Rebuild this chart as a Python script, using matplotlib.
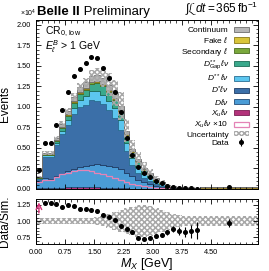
import numpy as np
import matplotlib
matplotlib.use("Agg")
import matplotlib.pyplot as plt
from matplotlib.patches import Patch
from matplotlib.ticker import AutoMinorLocator, FormatStrFormatter, FixedLocator

plt.rcParams['font.family'] = ['Liberation Sans', 'DejaVu Sans']
plt.rcParams['mathtext.fontset'] = 'custom'
plt.rcParams['mathtext.rm'] = 'Liberation Sans'
plt.rcParams['mathtext.it'] = 'Liberation Sans:italic'
plt.rcParams['mathtext.bf'] = 'Liberation Sans:bold'
plt.rcParams['hatch.linewidth'] = 1.1

# ---- data (units of 1e4 events) ----
bin_edges = [0.0, 0.15, 0.30, 0.45, 0.60, 0.75, 0.90, 1.05, 1.20, 1.35, 1.50, 1.65, 1.80, 1.95,
             2.10, 2.25, 2.40, 2.55, 2.70, 2.85, 3.00, 3.15, 3.30, 3.45, 3.60, 3.75, 3.90, 4.05,
             4.20, 5.70]
data = [0.23, 0.56, 0.56, 0.78, 0.96, 1.18, 1.38, 1.46, 1.54, 1.61, 1.60, 1.48, 1.35, 1.18,
        0.94, 0.62, 0.41, 0.27, 0.19, 0.15, 0.10, 0.07, 0.04, 0.03, 0.015, 0.011, 0.007, 0.0048,
        0.0207]
data_err = [0.0048, 0.0075, 0.0075, 0.0088, 0.0098, 0.0109, 0.0117, 0.0121, 0.0124, 0.0127,
            0.0126, 0.0122, 0.0116, 0.0109, 0.0097, 0.0079, 0.0064, 0.0052, 0.0044, 0.0039,
            0.0032, 0.0026, 0.0020, 0.0017, 0.0012, 0.0010, 0.0008, 0.0007, 0.0014]
xu = [0.009, 0.011, 0.011, 0.015, 0.018, 0.020, 0.022, 0.023, 0.023, 0.022, 0.020, 0.018, 0.016,
      0.014, 0.011, 0.009, 0.006, 0.0045, 0.0035, 0.0025, 0.0018, 0.0012, 0.0008, 0.0006, 0.0004,
      0.0003, 0.0002, 0.0002, 0.0003]
dlnu = [0.08, 0.12, 0.11, 0.14, 0.17, 0.20, 0.22, 0.24, 0.26, 0.27, 0.28, 0.28, 0.27, 0.25, 0.23,
        0.19, 0.15, 0.11, 0.08, 0.06, 0.04, 0.025, 0.013, 0.009, 0.004, 0.003, 0.0015, 0.001, 0.001]
dstar = [0.038, 0.259, 0.269, 0.381, 0.48, 0.565, 0.67, 0.731, 0.745, 0.789, 0.776, 0.733, 0.672,
         0.60, 0.476, 0.261, 0.139, 0.084, 0.053, 0.040, 0.017, 0.012, 0.004, 0.001, 0.0005,
         0.0003, 0.0002, 0.0001, 0.002]
dss = [0.008, 0.02, 0.02, 0.03, 0.045, 0.06, 0.075, 0.09, 0.10, 0.11, 0.12, 0.12, 0.12, 0.12, 0.12,
       0.10, 0.08, 0.065, 0.05, 0.04, 0.028, 0.02, 0.011, 0.008, 0.004, 0.003, 0.0015, 0.001, 0.001]
gap = [0.005, 0.01, 0.01, 0.02, 0.03, 0.045, 0.06, 0.07, 0.08, 0.09, 0.095, 0.10, 0.10, 0.10, 0.10,
       0.09, 0.07, 0.06, 0.045, 0.035, 0.025, 0.018, 0.01, 0.008, 0.004, 0.003, 0.002, 0.001, 0.001]
secondary = [0.003, 0.006, 0.006, 0.008, 0.01, 0.012, 0.014, 0.016, 0.017, 0.018, 0.018, 0.018,
             0.017, 0.016, 0.014, 0.012, 0.009, 0.007, 0.005, 0.004, 0.003, 0.002, 0.0015, 0.001,
             0.0008, 0.0006, 0.0004, 0.0003, 0.003]
fake = [0.002, 0.004, 0.004, 0.006, 0.007, 0.008, 0.009, 0.01, 0.01, 0.011, 0.011, 0.011, 0.01,
        0.01, 0.009, 0.008, 0.006, 0.005, 0.004, 0.003, 0.003, 0.002, 0.002, 0.0015, 0.001, 0.001,
        0.001, 0.001, 0.010]
continuum = [0.005, 0.01, 0.01, 0.02, 0.03, 0.04, 0.05, 0.06, 0.065, 0.07, 0.07, 0.07, 0.065, 0.06,
             0.05, 0.04, 0.03, 0.025, 0.02, 0.016, 0.012, 0.009, 0.006, 0.005, 0.003, 0.002, 0.0015,
             0.001, 0.003]
rel_unc = [0.05, 0.045, 0.045, 0.045, 0.045, 0.045, 0.045, 0.045, 0.045, 0.05, 0.06, 0.08, 0.11,
           0.14, 0.17, 0.20, 0.22, 0.24, 0.24, 0.23, 0.20, 0.17, 0.14, 0.11, 0.09, 0.08, 0.07, 0.07,
           0.07]

components = [
    (r'$X_u\ell\nu$', xu, '#b3327a', '#7a1f52'),
    (r'$D\ell\nu$', dlnu, '#4a9cd6', '#234d78'),
    (r'$D^{*}\ell\nu$', dstar, '#3b6fa8', '#1f3d66'),
    (r'$D^{**}\ell\nu$', dss, '#5cc6ef', '#2a6f93'),
    (r'$D^{**}_{\mathrm{Gap}}\ell\nu$', gap, '#3aa98c', '#1d6b57'),
    (r'Secondary $\ell$', secondary, '#7aa83c', '#4a6b20'),
    (r'Fake $\ell$', fake, '#d9c53a', '#8a7a1a'),
    ('Continuum', continuum, '#b7b7b7', '#6e6e6e'),
]

edges = np.array(bin_edges)
centers = 0.5 * (edges[1:] + edges[:-1])
data_a = np.array(data)
err_a = np.array(data_err)

HATCH = 'xxxxxx'
HCOL = '#a8a8a8'

fig = plt.figure(figsize=(2.69, 2.71), dpi=100)
ax = fig.add_axes([0.1338, 0.3026, 0.8253, 0.6236])
rax = fig.add_axes([0.1338, 0.0996, 0.8253, 0.1661])

bottom = np.zeros(len(centers))
handles = {}
for label, vals, fc, ec in components:
    v = np.array(vals)
    ax.stairs(bottom + v, edges, baseline=bottom.copy(), fill=True, facecolor=fc,
              edgecolor=ec, linewidth=0.6)
    handles[label] = Patch(facecolor=fc, edgecolor=ec, linewidth=0.6)
    bottom = bottom + v
total = bottom
unc = np.array(rel_unc)

ax.stairs(np.array(xu) * 10, edges, baseline=None, color='#e483b6', linewidth=0.9)
ax.stairs(total * (1 + unc), edges, baseline=total * (1 - unc), fill=True,
          facecolor='none', edgecolor=HCOL, linewidth=0, hatch=HATCH)
eb = ax.errorbar(centers, data_a, yerr=err_a, fmt='o', color='black', ms=2.6,
                 elinewidth=0.8, capsize=0)

ax.set_xlim(0, 5.7)
ax.set_ylim(0, 2.06)
ax.set_ylabel('Events', fontsize=8.5)
ax.yaxis.set_major_locator(FixedLocator([0, 0.25, 0.5, 0.75, 1.0, 1.25, 1.5, 1.75, 2.0]))
ax.yaxis.set_major_formatter(FormatStrFormatter('%.2f'))
ax.set_xticks([0, 0.75, 1.5, 2.25, 3.0, 3.75, 4.5])
ax.tick_params(labelbottom=False)

for a in (ax, rax):
    a.xaxis.set_minor_locator(AutoMinorLocator(5))
    a.yaxis.set_minor_locator(AutoMinorLocator(5))
    a.tick_params(which='both', direction='in', top=True, right=True, labelsize=5.3)
    a.tick_params(which='major', length=3.5, width=0.6)
    a.tick_params(which='minor', length=1.8, width=0.5)
    for s in a.spines.values():
        s.set_linewidth(0.7)

ax.text(0.0, 1.005, r'$\times10^{4}$', transform=ax.transAxes, ha='right', va='bottom',
        fontsize=5)
t1 = ax.text(0.005, 1.012, 'Belle II', transform=ax.transAxes, ha='left', va='bottom',
             fontsize=9.5, fontweight='bold')
ax.annotate(' Preliminary', xy=(1, 0), xycoords=t1, ha='left', va='bottom', fontsize=9.5)
ax.text(1.0, 1.012, r'$\int\mathcal{L}\,dt = 365\,\mathrm{fb}^{-1}$', transform=ax.transAxes,
        ha='right', va='bottom', fontsize=8.5)
ax.text(0.04, 0.93, r'CR$_{0,\,\mathrm{low}}$', transform=ax.transAxes, ha='left', va='center',
        fontsize=7.5)
ax.text(0.04, 0.845, r'$E_{\ell}^{B}$ > 1 GeV', transform=ax.transAxes, ha='left', va='center',
        fontsize=7.5)

order = ['Continuum', r'Fake $\ell$', r'Secondary $\ell$', r'$D^{**}_{\mathrm{Gap}}\ell\nu$',
         r'$D^{**}\ell\nu$', r'$D^{*}\ell\nu$', r'$D\ell\nu$', r'$X_u\ell\nu$']
h = [handles[k] for k in order]
labs = list(order)
h.append(Patch(facecolor='white', edgecolor='#e483b6', linewidth=0.9))
labs.append(r'$X_u\ell\nu$ $\times 10$')
h.append(Patch(facecolor='none', edgecolor=HCOL, linewidth=0, hatch=HATCH))
labs.append('Uncertainty')
h.append(eb)
labs.append('Data')
ax.legend(h, labs, loc='upper right', frameon=False, fontsize=6, markerfirst=False,
          handlelength=1.8, handleheight=0.6, handletextpad=0.6, labelspacing=0.08,
          borderaxespad=0.3, bbox_to_anchor=(0.985, 0.995))

# ---- ratio ----
ratio = data_a / total
ratio_err = err_a / total
rax.stairs(1 + unc, edges, baseline=1 - unc, fill=True, facecolor='none',
           edgecolor=HCOL, linewidth=0, hatch=HATCH)
rlo, rhi = 0.65, 1.335
inside = (ratio < rhi) & (ratio > rlo)
rax.errorbar(centers[inside], ratio[inside], yerr=ratio_err[inside], fmt='o', color='black',
             ms=2.6, elinewidth=0.8, capsize=0)
for xc, r in zip(centers[~inside], ratio[~inside]):
    if r >= rhi:
        rax.annotate('', xy=(xc, rhi - 0.01), xytext=(xc, 1.08),
                     arrowprops=dict(arrowstyle='->', color='#d6337a', lw=1.0))
rax.set_xlim(0, 5.7)
rax.set_ylim(rlo, rhi)
rax.set_yticks([0.75, 1.0, 1.25])
rax.yaxis.set_major_formatter(FormatStrFormatter('%.2f'))
rax.set_xticks([0, 0.75, 1.5, 2.25, 3.0, 3.75, 4.5])
rax.xaxis.set_major_formatter(FormatStrFormatter('%.2f'))
rax.set_ylabel('Data/Sim.', fontsize=8.5)
rax.set_xlabel(r'$M_X$ [GeV]', fontsize=9, labelpad=0)

fig.align_ylabels([ax, rax])
fig.savefig('out.png', dpi=100)
